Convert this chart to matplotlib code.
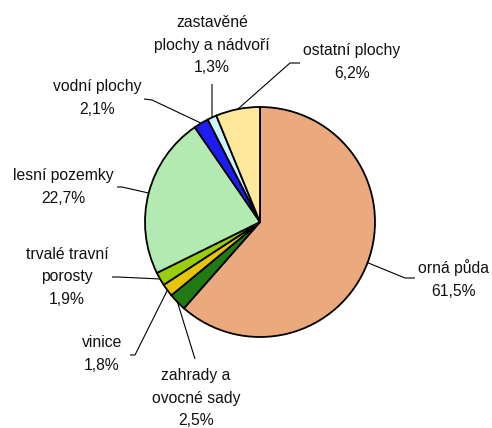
import numpy as np
import matplotlib
matplotlib.use('Agg')
import matplotlib.pyplot as plt

plt.rcParams['font.family'] = ['Liberation Sans', 'DejaVu Sans']

# land use shares, clockwise from 12 o'clock
labels = ['orná půda', 'zahrady a\novocné sady', 'vinice', 'trvalé travní\nporosty',
          'lesní pozemky', 'vodní plochy', 'zastavěné\nplochy a nádvoří', 'ostatní plochy']
shares = [61.5, 2.5, 1.8, 1.9, 22.7, 2.1, 1.3, 6.2]
colors = ['#EBA97E', '#217A13', '#E8C40A', '#9ACD0E',
          '#B2EAB2', '#1C1CF5', '#CCF5FF', '#FFE89C']

W, H = 492, 428
CX, CY, R = 260, 222, 115

# label placement (pixel coords, y from top): text centre, elbow start, elbow end
label_pos = [
    ((454, 279), (415, 278), (405, 278)),
    ((196, 398), (195, 359), (195, 359)),
    ((102, 354), (130, 355), (135, 355)),
    ((67, 277), (112, 277), (118, 277)),
    ((63, 187), (117, 187), (122, 187)),
    ((97, 98), (144, 99), (152, 100)),
    ((212, 45), (212, 84), (212, 84)),
    ((352, 62), (300, 63), (290, 63)),
]


def py(y):
    return H - y


fig = plt.figure(figsize=(W / 100, H / 100), dpi=100)
ax = fig.add_axes([0, 0, 1, 1])
wedges, _ = ax.pie(shares, colors=colors, startangle=90, counterclock=False,
                   center=(CX, py(CY)), radius=R,
                   wedgeprops=dict(edgecolor='black', linewidth=1.3))
ax.set_xlim(0, W)
ax.set_ylim(0, H)
ax.set_aspect('equal')
ax.axis('off')

for w, lab, val, (tpos, e0, e1) in zip(wedges, labels, shares, label_pos):
    mid = np.deg2rad((w.theta1 + w.theta2) / 2)
    px, pyy = CX + R * np.cos(mid), py(CY) + R * np.sin(mid)
    ax.plot([e0[0], e1[0], px], [py(e0[1]), py(e1[1]), pyy],
            color='black', lw=0.8, solid_capstyle='butt')
    txt = lab + '\n' + f'{val:.1f}'.replace('.', ',') + '%'
    ax.text(tpos[0], py(tpos[1]), txt, ha='center', va='center',
            fontsize=11.3, linespacing=1.6, color='#111111')

fig.savefig('out.png', dpi=100, facecolor='white')
